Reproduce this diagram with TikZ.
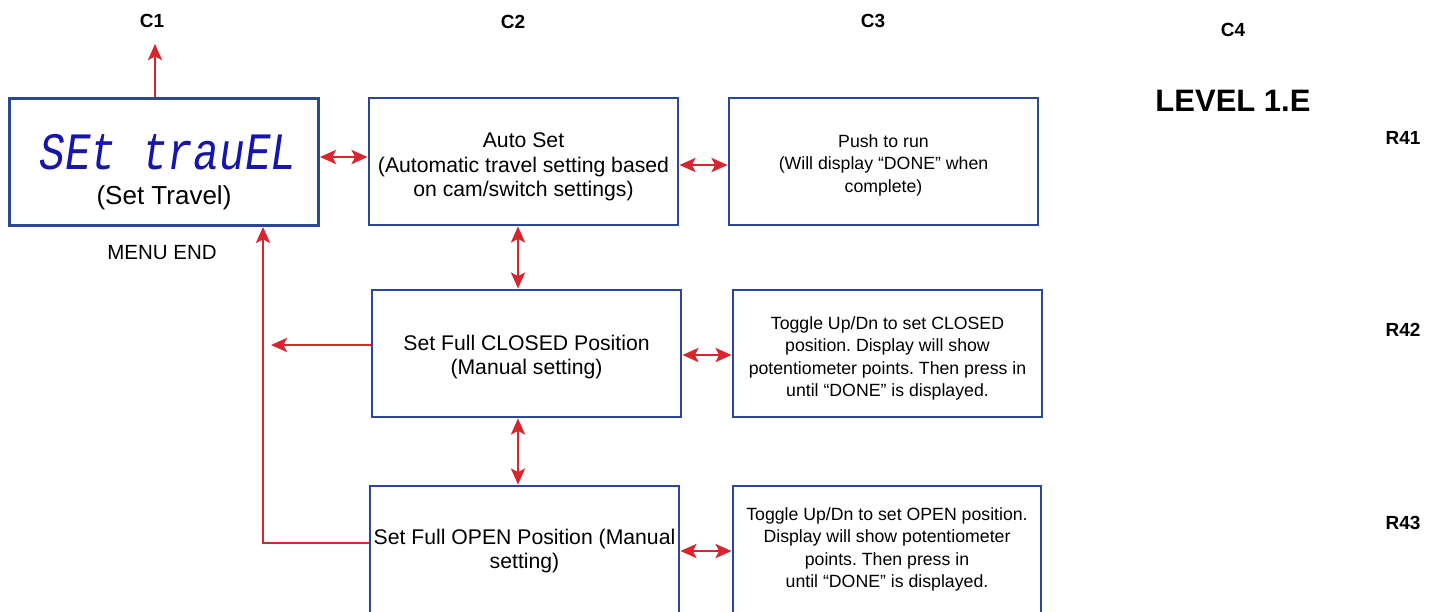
\documentclass[tikz,border=0pt]{standalone}
\usepackage{fontspec}
\setmainfont{Liberation Sans}
\newfontfamily\segfont[FakeSlant=0.18]{Liberation Mono}
\usetikzlibrary{arrows.meta,calc}
\frenchspacing
\definecolor{boxblue}{HTML}{2C4797}
\definecolor{arrred}{HTML}{D7262E}
\definecolor{segblue}{HTML}{1616AA}
\newcommand{\lowtext}[2]{\raisebox{-#1}[\height][\depth]{\begin{tabular}{@{}c@{}}#2\end{tabular}}}
\tikzset{
  box/.style={draw=boxblue,line width=2.8pt,minimum width=309pt,minimum height=127pt,inner sep=0pt,font=\fontsize{21.2}{24.5}\selectfont},
  smallbox/.style={box,font=\fontsize{17.7}{22.4}\selectfont},
  conn/.style={draw=arrred,line width=2.8pt},
  tip/.style={-{Stealth[length=16pt,width=14pt,inset=3.5pt]}},
  dtip/.style={{Stealth[length=16pt,width=14pt,inset=3.5pt]}-{Stealth[length=16pt,width=14pt,inset=3.5pt]}},
  lbl/.style={font=\bfseries\fontsize{19}{22}\selectfont,inner sep=0pt},
  plain/.style={font=\fontsize{20.5}{24}\selectfont,inner sep=0pt}
}
\begin{document}
\begin{tikzpicture}[x=1pt,y=-1pt]
\useasboundingbox (0,0) rectangle (1445,611);
\begin{scope}
\clip (0,0) rectangle (1445,611);
% boxes
\node[box] (B1) at (164,162) {};
\node[segblue,inner sep=0pt] (seg) at (166,152) {\scalebox{1.02}[1.25]{\segfont\fontsize{42}{42}\selectfont SEt trauEL}};
\node[inner sep=0pt,font=\fontsize{26}{30}\selectfont] (st) at (164,198) {(Set Travel)};
\node[box] (B2) at (523.5,161.5) {\lowtext{6pt}{Auto Set\\(Automatic travel setting based\\on cam/switch settings)}};
\node[smallbox] (B3) at (883.5,161.5) {\lowtext{4pt}{Push to run\\(Will display “DONE” when\\complete)}};
\node[box] (B4) at (526.5,353.5) {\lowtext{4pt}{Set Full CLOSED Position\\(Manual setting)}};
\node[smallbox] (B5) at (887.5,353.5) {\lowtext{5pt}{Toggle Up/Dn to set CLOSED\\position. Display will show\\potentiometer points. Then press in\\until “DONE” is displayed.}};
\node[box] (B6) at (524.5,549.5) {\lowtext{2pt}{Set Full OPEN Position (Manual\\setting)}};
\node[smallbox,minimum width=308pt] (B7) at (887,549.5) {\lowtext{0pt}{Toggle Up/Dn to set OPEN position.\\Display will show potentiometer\\points. Then press in\\until “DONE” is displayed.}};
\end{scope}
% labels
\node[lbl] (C1) at (152,21) {C1};
\node[lbl] (C2) at (513,22) {C2};
\node[lbl] (C3) at (873,21) {C3};
\node[lbl] (C4) at (1233,30) {C4};
\node[font=\bfseries\fontsize{31}{34}\selectfont,inner sep=0pt] (lev) at (1233,101) {LEVEL 1.E};
\node[lbl] (R41) at (1403,138) {R41};
\node[lbl] (R42) at (1403,330) {R42};
\node[lbl] (R43) at (1403,523) {R43};
\node[plain] (menu) at (162,253) {MENU END};
% free ends
\coordinate (up) at (155,44);
\coordinate (left) at (271,345);
\coordinate (corner) at (263,543);
% connectors
\draw[conn,tip] ([xshift=-9pt]B1.north) -- (up);
\draw[conn,dtip] ([yshift=5pt]B1.east) -- ([yshift=4.5pt]B2.west);
\draw[conn,dtip] ([yshift=-3.5pt]B2.east) -- ([yshift=-3.5pt]B3.west);
\draw[conn,dtip] ([xshift=-5.5pt]B2.south) -- ([xshift=-8.5pt]B4.north);
\draw[conn,dtip] ([yshift=-1.5pt]B4.east) -- ([yshift=-1.5pt]B5.west);
\draw[conn,dtip] ([xshift=-8.5pt]B4.south) -- ([xshift=-6.5pt]B6.north);
\draw[conn,dtip] ([yshift=-1.5pt]B6.east) -- ([yshift=-1.5pt]B7.west);
\draw[conn,tip] ([yshift=8.5pt]B4.west) -- (left);
\draw[conn,tip] ([yshift=6.5pt]B6.west) -- (corner) -- (corner |- B1.south);
\end{tikzpicture}
\end{document}
